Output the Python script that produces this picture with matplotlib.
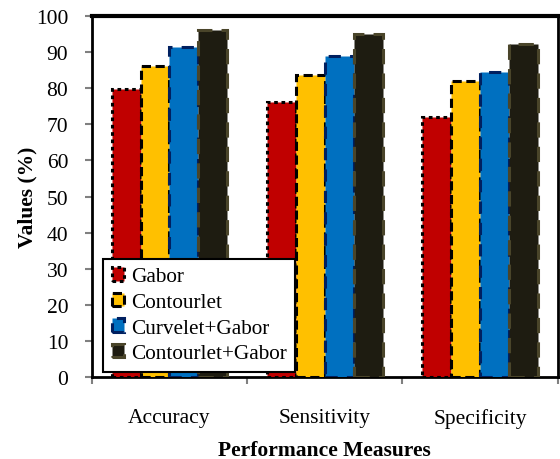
import matplotlib
matplotlib.use("Agg")
import matplotlib.pyplot as plt
import numpy as np

categories = ["Accuracy", "Sensitivity", "Specificity"]
series_names = ["Gabor", "Contourlet", "Curvelet+Gabor", "Contourlet+Gabor"]
gabor = [79.8, 76.2, 72.0]
contourlet = [86.2, 83.7, 82.0]
curvelet_gabor = [91.3, 89.0, 84.6]
contourlet_gabor = [96.2, 95.0, 92.3]
yticks = [0, 10, 20, 30, 40, 50, 60, 70, 80, 90, 100]

series = [gabor, contourlet, curvelet_gabor, contourlet_gabor]
faces = ["#C00000", "#FFC000", "#0070C0", "#1E1C11"]
edges = ["#000000", "#000000", "#002060", "#4A452A"]
styles = [(0, (1.2, 1.2)), (0, (3, 1.5)), (0, (4, 3)), (0, (5, 3))]

plt.rcParams['font.family'] = ['Liberation Serif', 'DejaVu Serif']
fig = plt.figure(figsize=(5.6, 4.6), dpi=100)
ax = fig.add_axes([0.164, 0.178, 0.832, 0.785])

x = np.arange(len(categories))
w = 0.186
for i, (vals, fc, ec, ls, name) in enumerate(zip(series, faces, edges, styles, series_names)):
    ax.bar(x + (i - 1.5) * w, vals, w, color=fc, edgecolor=ec, linewidth=2.2,
           linestyle=ls, label=name, zorder=3)

ax.set_xlim(-0.5, 2.5)
ax.set_ylim(0, 100)
ax.set_yticks(yticks)
ax.set_xticks(x)
ax.set_xticklabels(categories, fontsize=15.5)
ax.set_xticks([-0.5, 0.5, 1.5, 2.5], minor=True)
ax.tick_params(axis='x', which='major', length=0, pad=22)
ax.tick_params(axis='x', which='minor', length=5, width=1.5, color='#808080', direction='out')
ax.tick_params(axis='y', length=5, width=1.5, color='#808080', labelsize=15.5, pad=12)

for s in ax.spines.values():
    s.set_linewidth(2)
    s.set_color('black')
ax.spines['top'].set_linewidth(3)

ax.set_ylabel("Values (%)", fontsize=15.5, fontweight='bold', labelpad=-1)
ax.set_xlabel("Performance Measures", fontsize=15.5, fontweight='bold', labelpad=9)

leg = ax.legend(loc='lower left', bbox_to_anchor=(0.024, 0.015), fontsize=15.3,
                fancybox=False, framealpha=1, edgecolor='black', borderpad=0.4,
                handlelength=0.6, handleheight=0.6, handletextpad=0.3,
                labelspacing=0.3, borderaxespad=0)
leg.get_frame().set_linewidth(1.5)
leg.set_zorder(5)

fig.savefig("out.png", dpi=100)
